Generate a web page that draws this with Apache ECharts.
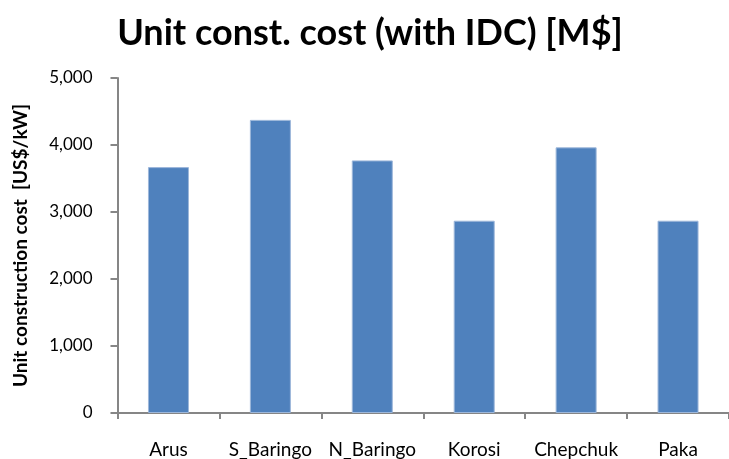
<!DOCTYPE html>
<html>
<head>
<meta charset="utf-8">
<script src="https://cdn.jsdelivr.net/npm/echarts@6/dist/echarts.min.js"></script>
<style>
  html, body { margin: 0; padding: 0; background: #fff; }
  #chart { width: 729px; height: 459px; }
</style>
</head>
<body>
<div id="chart"></div>
<script>
// Unit construction cost per site, including interest during construction
const sites = ['Arus', 'S_Baringo', 'N_Baringo', 'Korosi', 'Chepchuk', 'Paka'];
const unitCost = [3670, 4375, 3770, 2870, 3965, 2870];
const yTicks = [0, 1000, 2000, 3000, 4000, 5000];

const FONT = 'Lato, "Open Sans", sans-serif';
const AXIS_GRAY = '#868686';

const chart = echarts.init(document.getElementById('chart'), null, { renderer: 'canvas' });

chart.setOption({
  animation: false,
  backgroundColor: '#ffffff',
  title: {
    text: 'Unit const. cost (with IDC) [M$]',
    left: 365,
    textAlign: 'center',
    top: 10,
    textStyle: { fontFamily: FONT, fontWeight: 'bold', fontSize: 36, color: '#000' }
  },
  grid: { left: 117.5, top: 78, bottom: 45, width: 618, containLabel: false },
  xAxis: {
    type: 'category',
    data: sites,
    axisLine: { lineStyle: { color: AXIS_GRAY, width: 2 } },
    axisTick: { show: true, interval: 0, length: 6, alignWithLabel: false, lineStyle: { color: AXIS_GRAY, width: 2 } },
    axisLabel: { interval: 0, hideOverlap: false, margin: 27, fontFamily: FONT, fontSize: 19, color: '#000' },
    splitLine: { show: false }
  },
  yAxis: {
    type: 'value',
    min: yTicks[0],
    max: yTicks[yTicks.length - 1],
    interval: yTicks[1] - yTicks[0],
    name: 'Unit construction cost  [US$/kW]',
    nameLocation: 'middle',
    nameRotate: 90,
    nameGap: 87,
    nameTextStyle: { fontFamily: FONT, fontWeight: 'bold', fontSize: 19, color: '#000' },
    axisLine: { show: true, lineStyle: { color: AXIS_GRAY, width: 2 } },
    axisTick: { show: true, length: 7, lineStyle: { color: AXIS_GRAY, width: 2 } },
    axisLabel: {
      margin: 25,
      fontFamily: FONT,
      fontSize: 17,
      color: '#000',
      formatter: v => v.toLocaleString('en-US')
    },
    splitLine: { show: false }
  },
  series: [{
    type: 'bar',
    data: unitCost,
    barWidth: 41,
    itemStyle: { color: '#4F81BD', borderColor: '#9DB7DA', borderWidth: 1 }
  }]
});
</script>
</body>
</html>
